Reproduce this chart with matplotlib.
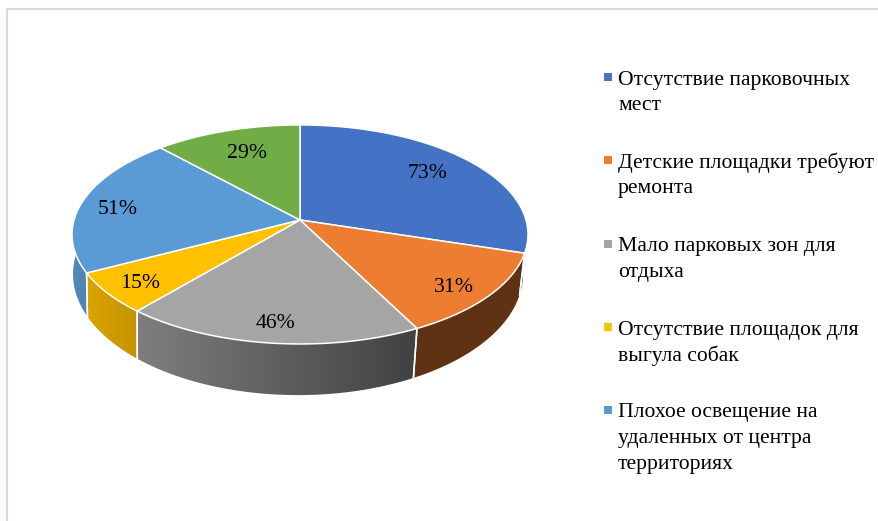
#!/usr/bin/env python3
# -*- coding: utf-8 -*-
"""
Tilted 3D-look pie chart with a side legend, drawn in pixel coordinates.
"""

import numpy as np
import matplotlib
matplotlib.use("Agg")
import matplotlib.pyplot as plt
from matplotlib.patches import Polygon

plt.rcParams["font.family"] = ["Liberation Serif", "DejaVu Serif"]

values = [73, 31, 46, 15, 51, 29]
value_labels = ["73%", "31%", "46%", "15%", "51%", "29%"]
top_colors = ["#4472C4", "#ED7D31", "#A5A5A5", "#FFC000", "#5B9BD5", "#70AD47"]
legend_labels = [
    ["Отсутствие парковочных", "мест"],
    ["Детские площадки требуют", "ремонта"],
    ["Мало парковых зон для", "отдыха"],
    ["Отсутствие площадок для", "выгула собак"],
    ["Плохое освещение на", "удаленных от центра", "территориях"],
]

# layout, in pixels of the 879x521 picture
label_xy = [(428, 174), (454, 288), (276, 324), (140, 283), (118, 210), (247, 154)]
legend_y = [78, 161, 245, 328, 411]
LINE_H = 26
CX = 300
P = 0.132  # perspective strength


def rim(theta, cx, rx, ry, cy):
    # theta runs clockwise from 12 o'clock, far side is squeezed by the perspective
    d = 1 + P * np.cos(theta)
    return cx + rx * np.sin(theta) / d, cy - ry * np.cos(theta) / d


def top_rim(theta):
    return rim(theta, CX, 226, 107.6, 220)


def bottom_rim(theta):
    return rim(theta, CX - 2, 223, 119, 258)


def side_shade(x):
    # side wall gets darker from left to right
    return np.interp(x, [73, 140, 413, 527], [0.88, 0.76, 0.40, 0.40])


fig = plt.figure(figsize=(8.79, 5.21), dpi=100)
ax = fig.add_axes([0, 0, 1, 1])
ax.axis("off")

# only the left and top edges of the frame are in the crop
ax.plot([7, 7, 879], [521, 9, 9], color="#D9D9D9", lw=1.5, zorder=1)

edges = np.deg2rad(np.cumsum([0] + values) / sum(values) * 360)

# side wall first, the top face covers whatever lies behind it
grad_x = np.arange(60, 540)
for i in range(len(values)):
    rgb = np.array(matplotlib.colors.to_rgb(top_colors[i]))
    th = np.linspace(edges[i], edges[i + 1], 160)
    xt, yt = top_rim(th)
    xb, yb = bottom_rim(th)
    pts = list(zip(xt, yt)) + list(zip(xb[::-1], yb[::-1]))
    wall = Polygon(pts, closed=True, facecolor="none", edgecolor="none", zorder=2)
    ax.add_patch(wall)
    strip = np.outer(side_shade(grad_x), rgb)[np.newaxis, :, :]
    im = ax.imshow(strip, extent=(60, 540, 420, 120), aspect="auto", zorder=2,
                   interpolation="bilinear")
    im.set_clip_path(wall)
    for k in (0, -1):
        if np.cos(th[k]) < 0:
            ax.plot([xt[k], xb[k]], [yt[k], yb[k]], color="white", lw=1.1, zorder=3)

# top face
for i in range(len(values)):
    th = np.linspace(edges[i], edges[i + 1], 120)
    xt, yt = top_rim(th)
    pts = [(CX, 220)] + list(zip(xt, yt))
    ax.add_patch(Polygon(pts, closed=True, facecolor=top_colors[i], edgecolor="white",
                         lw=1.1, joinstyle="round", zorder=4))

for txt, (x, y) in zip(value_labels, label_xy):
    ax.text(x, y, txt, fontsize=15.7, color="black", ha="center", va="center", zorder=5)

# legend (the green slice has no entry in the reference)
for i, lines in enumerate(legend_labels):
    y0 = legend_y[i]
    ax.plot([608], [y0 - 1], marker="s", ms=5.8, mew=0, color=top_colors[i], zorder=5)
    for n, line in enumerate(lines):
        ax.text(618, y0 + 2 + n * LINE_H, line, fontsize=15.6, color="black", ha="left",
                va="center", zorder=5)

ax.set_xlim(0, 879)
ax.set_ylim(521, 0)
fig.savefig("out.png", dpi=100)
